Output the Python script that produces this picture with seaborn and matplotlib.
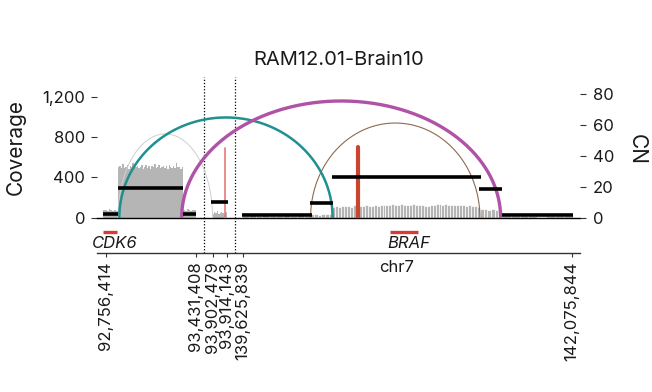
import numpy as np
import matplotlib
matplotlib.use("Agg")
import matplotlib.pyplot as plt
import seaborn as sns

# ---------------- data (chr7, genomic coordinates) ----------------
seg_start = [92756414, 93902479, 139625839]
seg_end = [93431408, 93914143, 142075844]
tick_positions = [92756414, 93431408, 93902479, 93914143, 139625839, 142075844]

# copy-number segments
cn_start = [92733900, 92846400, 93333900, 93901000, 139616000, 140122000, 140287000, 141381000, 141552000]
cn_end = [92846400, 93333900, 93431408, 93915500, 140135000, 140292000, 141396000, 141552000, 142080000]
cn_value = [2.1, 19.0, 2.0, 9.9, 1.8, 9.5, 26.3, 18.8, 1.8]

# coverage blocks: start, end, binned values
cov_start = [92733900, 92846400, 93333900, 93902479, 139616000, 140127000, 140290000, 141388000, 141552000]
cov_end = [92846400, 93333900, 93431408, 93914143, 140127000, 140290000, 141388000, 141552000, 142080000]
cov_block1 = [70, 75, 65, 80, 72, 68, 74, 66]
cov_block2 = [500, 512, 488, 530, 495, 505, 520, 480, 510, 498, 545, 490, 507, 515, 492,
              500, 525, 486, 503, 518, 495, 509, 480, 512, 500, 535, 494, 506, 520, 488,
              501, 514, 497, 509, 485, 522, 503, 496, 511, 490, 540, 498, 505, 487, 500]
cov_block3 = [72, 68, 80, 75, 66, 70, 74]
cov_block4 = [30, 55, 40, 62, 35, 48, 58, 42, 38, 50]
cov_block5 = [15, 20, 18, 22, 16, 19, 21, 17, 20, 18]
cov_block6 = [30, 35, 28, 38, 33, 30]
cov_block7 = [108, 112, 105, 118, 110, 115, 108, 120, 113, 117, 110, 122, 116, 119, 124,
              118, 126, 121, 128, 123, 130, 125, 127, 132, 126, 129, 124, 131, 127, 122,
              125, 118, 112, 120, 128, 134, 130, 127, 132, 125, 129, 122, 126, 120, 124,
              118, 121, 115, 110, 105]
cov_block8 = [85, 80, 78, 82, 75, 72]
cov_block9 = [12, 10, 14, 11, 9, 13, 10, 12]
cov_values = [cov_block1, cov_block2, cov_block3, cov_block4, cov_block5,
              cov_block6, cov_block7, cov_block8, cov_block9]

# breakpoint edges (arcs): start, end, height in CN units
arc_start = [92846400, 140127760, 92856164, 93324164]
arc_end = [93902479, 141388530, 140291600, 141542700]
arc_height = [54.2, 61.3, 64.9, 75.6]
arc_kind = ["discordant", "concordant", "inversion", "interchr"]

# foldback edges (vertical lines)
fold_pos = [93912725, 140482240]
fold_height = [44.8, 45.7]

# genes
gene_name = ["CDK6", "BRAF"]
gene_start = [92734000, 140719327]
gene_end = [92836573, 140924929]

title = "RAM12.01-Brain10"
cov_ticks = [0, 400, 800, 1200]
cn_ticks = [0, 20, 40, 60, 80]

# ---------------- layout (broken x axis) ----------------
seg_w = [90, 14, 329]
margin, gap = 9.0, 16.6
x0 = [margin, margin + seg_w[0] + gap, margin + seg_w[0] + gap + seg_w[1] + gap]
XMAX = 483.0


def to_x(pos):
    pos = np.atleast_1d(np.asarray(pos, float))
    out = np.empty_like(pos)
    for k, p in enumerate(pos):
        d = [max(s - p, 0, p - e) for s, e in zip(seg_start, seg_end)]
        i = int(np.argmin(d))
        out[k] = x0[i] + (p - seg_start[i]) / (seg_end[i] - seg_start[i]) * seg_w[i]
    return out


sns.set_theme(style="white")
plt.rcParams["font.family"] = ["Inter", "DejaVu Sans"]

W, H = 652, 392
fig = plt.figure(figsize=(W / 100, H / 100), dpi=100)

ax_left, ax_right = 97, 580
ax_bot, ax_top = 217.5, 77
gene_top = ax_bot
x_axis_y = 253

ax = fig.add_axes([ax_left / W, 1 - ax_bot / H, (ax_right - ax_left) / W, (ax_bot - ax_top) / H])
ax2 = ax.twinx()
gax = fig.add_axes([ax_left / W, 1 - x_axis_y / H, (ax_right - ax_left) / W, (x_axis_y - gene_top) / H])

px_per_cn = 123.3 / 80
cov_px = 0.1005
ax.set_ylim(0, (ax_bot - ax_top) / cov_px)
ax2.set_ylim(0, (ax_bot - ax_top) / px_per_cn)
for a in (ax, ax2, gax):
    a.set_xlim(0, XMAX)

# coverage bars
for s, e, vals in zip(cov_start, cov_end, cov_values):
    edges = to_x(np.linspace(s, e, len(vals) + 1))
    widths = np.diff(edges)
    lw = 0.5 if widths.mean() > 2 else 0
    ax.bar(edges[:-1], vals, width=widths, align="edge", color="#b5b5b5",
           edgecolor="white" if lw else "#b5b5b5", linewidth=lw, zorder=1)

# arcs
arc_style = {
    "discordant": dict(color="#cfcfcf", lw=0.7),
    "concordant": dict(color="#8c6a4f", lw=0.8),
    "inversion": dict(color="#1f9090", lw=1.8),
    "interchr": dict(color="#b052a6", lw=2.4),
}
t = np.linspace(np.pi, 0, 200)
for s, e, h, kind in zip(arc_start, arc_end, arc_height, arc_kind):
    xs, xe = to_x([s, e])
    c, a_ = (xs + xe) / 2, (xe - xs) / 2
    ax2.plot(c + a_ * np.cos(t), h * np.sin(t), zorder=2, **arc_style[kind])

# foldbacks
fold_style = [dict(color="#e57a7a", lw=1.2), dict(color="#c9452e", lw=3.0)]
for p, h, st in zip(fold_pos, fold_height, fold_style):
    xp = to_x(p)[0]
    ax2.plot([xp, xp], [0, h], zorder=3, **st)

# CN segments
for s, e, v in zip(cn_start, cn_end, cn_value):
    xs, xe = to_x([s, e])
    ax2.plot([xs, xe], [v, v], color="black", lw=2.6, solid_capstyle="butt", zorder=4)

# breaks (dotted)
for i in range(len(seg_start) - 1):
    xb = (to_x(seg_end[i])[0] + to_x(seg_start[i + 1])[0]) / 2
    for a in (ax, gax):
        a.axvline(xb, color="black", ls=(0, (1, 1.5)), lw=0.9, zorder=5)

# axes styling
for a in (ax, ax2):
    for sp in a.spines.values():
        sp.set_visible(False)
ax.spines["bottom"].set_visible(True)
ax.spines["bottom"].set_color("black")
ax.spines["bottom"].set_linewidth(1.0)
ax.set_xticks([])
ax2.set_xticks([])

ax.set_yticks(cov_ticks)
ax.set_yticklabels([f"{v:,}" for v in cov_ticks])
ax.tick_params(axis="y", left=True, direction="out", length=4.5, width=0.8,
               color="#333333", labelsize=12, pad=4, labelcolor="#1a1a1a")
ax2.set_yticks(cn_ticks)
ax2.tick_params(axis="y", right=True, direction="out", length=4.5, width=0.8,
                color="#333333", labelsize=12, pad=5, labelcolor="#1a1a1a")
ax.set_zorder(1)
ax2.set_zorder(2)

# gene track + x axis
for sp in gax.spines.values():
    sp.set_visible(False)
gax.spines["bottom"].set_visible(True)
gax.spines["bottom"].set_color("#333333")
gax.spines["bottom"].set_linewidth(1.0)
gax.set_ylim(0, 1)
gax.set_yticks([])
gax.patch.set_alpha(0)
for name, gs, ge in zip(gene_name, gene_start, gene_end):
    xs, xe = to_x([gs, ge])
    gax.plot([xs, xe], [0.6, 0.6], color="#d63c35", lw=2.4, solid_capstyle="butt")
    gax.text((xs + xe) / 2 + 5, 0.27, name, ha="center", va="center",
             fontsize=12, style="italic", color="#1a1a1a")

gax.set_xticks(to_x(tick_positions))
gax.set_xticklabels([f"{p:,}" for p in tick_positions], rotation=90)
gax.tick_params(axis="x", bottom=True, direction="out", length=3, width=0.8,
                color="#333333", labelsize=12, pad=3, labelcolor="#1a1a1a")

fig.text(338.5 / W, 1 - 60 / H, title, ha="center", va="center", fontsize=14.5, color="#1a1a1a")
fig.text(16 / W, 1 - 147 / H, "Coverage", ha="center", va="center", rotation=90,
         fontsize=15, color="#1a1a1a")
fig.text(637 / W, 1 - 150 / H, "CN", ha="center", va="center", rotation=270,
         fontsize=15, color="#1a1a1a")
fig.text(397 / W, 1 - 268 / H, "chr7", ha="center", va="center", fontsize=12, color="#1a1a1a")

fig.savefig("out.png", dpi=100)
